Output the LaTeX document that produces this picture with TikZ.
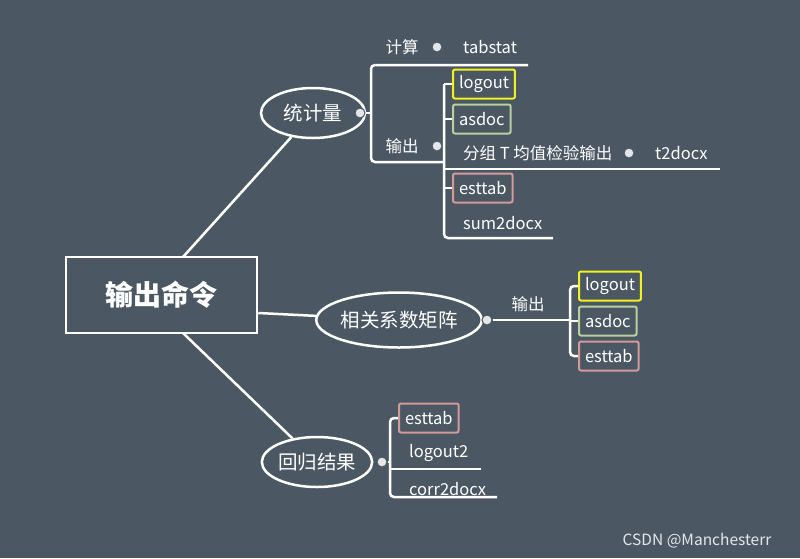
\documentclass[tikz,border=0pt]{standalone}
\usepackage{fontspec}
\setmainfont{Noto Sans CJK SC}
\usetikzlibrary{shapes.geometric}
\definecolor{bg}{HTML}{4B5864}
\definecolor{ylw}{HTML}{F2F21E}
\definecolor{grn}{HTML}{B9CFA0}
\definecolor{pnk}{HTML}{D39A9A}
\tikzset{
    txt/.style={text=white, font=\fontsize{16.5}{19}\selectfont, inner sep=0pt},
    box/.style={txt, draw=#1, line width=2pt, rounded corners=2pt, minimum height=29pt, inner xsep=6pt, anchor=west},
    oval/.style={txt, draw=white, line width=2.5pt, ellipse, inner sep=0pt, font=\fontsize{19.5}{22}\selectfont},
    knob/.style={circle, fill=white!85!bg, draw=bg, line width=1pt, inner sep=0pt, minimum size=10pt},
    wire/.style={white, line width=2.5pt},
    brk/.style={white, line width=2.5pt, rounded corners=4pt}
}
\begin{document}
\begin{tikzpicture}[x=1pt,y=-1pt]
    \fill [bg] (0,0) rectangle (800,558);
    % root
    \node [txt, draw=white, line width=2.5pt, minimum width=191pt, minimum height=76pt,
           font=\fontsize{28}{32}\selectfont\bfseries] (root) at (161.5,295) {输出命令};
    \node [oval, minimum width=104pt, minimum height=50pt] (stat) at (313,113) {统计量};
    \node [oval, minimum width=162pt, minimum height=55pt] (corr) at (399,320) {相关系数矩阵};
    \node [oval, minimum width=110pt, minimum height=50pt] (reg) at (317,462) {回归结果};
    \draw [wire] (183,257) -- (stat);
    \draw [wire] (root.east |- 0,313) -- (corr);
    \draw [wire] (183,333) -- (reg);
    %
    % branch 1
    \node [knob] (k1) at (360,113) {};
    \coordinate (b1t) at (528,65);
    \coordinate (b1b) at (443,162);
    \draw [brk] (b1t) -- (371,65) -- (371,162) -- (b1b);
    \draw [wire] (k1) -- (371,113);
    \node [txt] (calc) at (402,47) {计算};
    \node [knob] (k2) at (437,47) {};
    \node [txt, anchor=west] (tabstat) at (463,47) {tabstat};
    \node [txt] (out1) at (402,146) {输出};
    \node [knob] (k3) at (437,146) {};
    \draw [brk] (720,169) -- (444,169);
    \draw [brk] (444,84) -- (444,238) -- (553,238);
    \node [box=ylw] (lo1) at (452,84) {logout};
    \node [box=grn] (as1) at (452,119) {asdoc};
    \node [box=pnk] (es1) at (452,188) {esttab};
    \foreach \n in {lo1,as1,es1} \draw [wire] (444,0 |- \n.west) -- (\n.west);
    \node [txt, anchor=west] (grp) at (463,153) {分组 T 均值检验输出};
    \node [knob] (k4) at (629,153) {};
    \node [txt, anchor=west] (t2d) at (655,153) {t2docx};
    \node [txt, anchor=west] (s2d) at (463,223) {sum2docx};
    %
    % branch 2
    \node [knob] (k5) at (487,320) {};
    \draw [wire] (k5) -- (570,320);
    \node [txt] (out2) at (528,304) {输出};
    \draw [brk] (578,286) -- (570,286) -- (570,356) -- (578,356);
    \node [box=ylw] (lo2) at (578,286) {logout};
    \node [box=grn] (as2) at (578,321) {asdoc};
    \node [box=pnk] (es2) at (578,356) {esttab};
    \draw [wire] (570,321) -- (as2.west);
    %
    % branch 3
    \node [knob] (k6) at (382,462) {};
    \draw [wire] (k6) -- (390,462);
    \draw [brk] (398,418) -- (390,418) -- (390,497) -- (497,497);
    \draw [wire] (390,469) -- (481,469);
    \node [box=pnk] (es3) at (398,418) {esttab};
    \node [txt, anchor=west] (lo3) at (409,453) {logout2};
    \node [txt, anchor=west] (c2d) at (409,489) {corr2docx};
    %
    \node [txt, font=\fontsize{15.5}{18}\selectfont, text=white!85!bg] (mark) at (697,541) {CSDN @Manchesterr};
\end{tikzpicture}
\end{document}
